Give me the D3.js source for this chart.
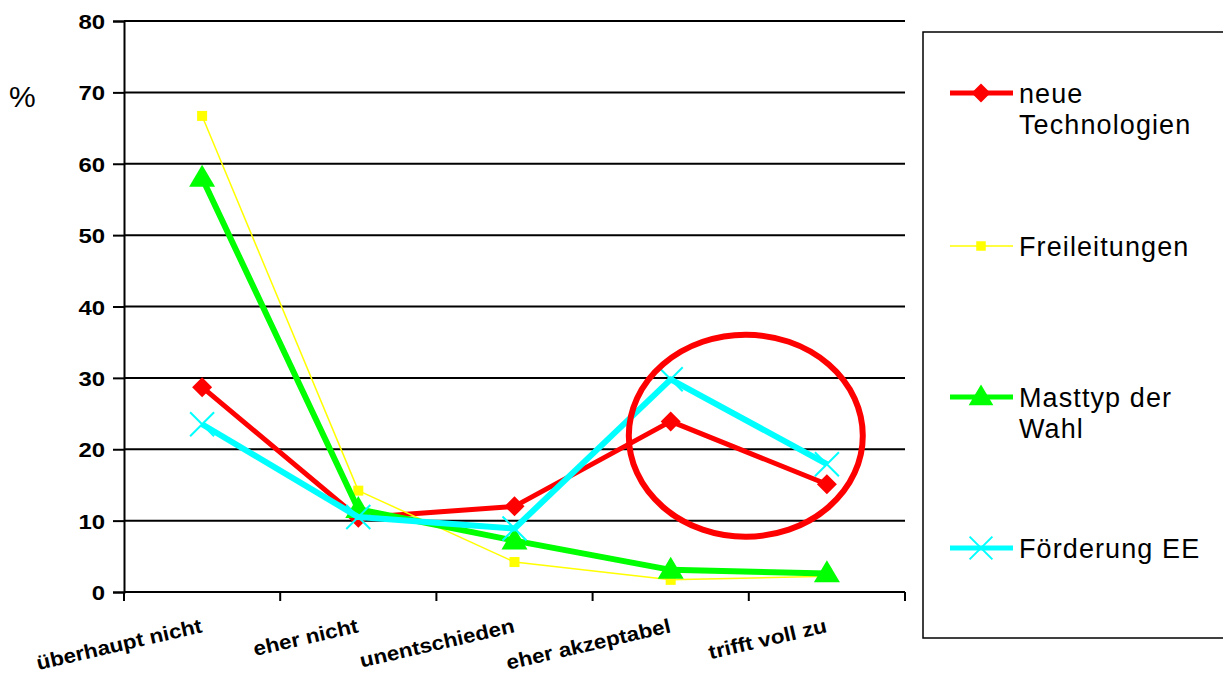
<!DOCTYPE html>
<html>
<head>
<meta charset="utf-8">
<script src="https://cdn.jsdelivr.net/npm/d3@7"></script>
<style>
  html, body { margin: 0; padding: 0; background: #fff; }
  svg { display: block; font-family: "Liberation Sans", Arial, sans-serif; }
</style>
</head>
<body>
<svg id="chart" width="1223" height="674"></svg>
<script>
// Answer categories on the x axis
const categories = ["überhaupt nicht", "eher nicht", "unentschieden", "eher akzeptabel", "trifft voll zu"];

// Share of answers (%) per series
const neueTechnologien = [28.7, 10.4, 12.0, 23.9, 15.1];
const freileitungen    = [66.7, 14.2, 4.2, 1.7, 2.2];
const masttypDerWahl   = [58.0, 11.6, 7.2, 3.1, 2.6];
const foerderungEE     = [23.5, 10.5, 8.9, 29.8, 17.9];

const seriesNames = [["neue", "Technologien"], ["Freileitungen"], ["Masttyp der", "Wahl"], ["Förderung EE"]];

const yTicks = [0, 10, 20, 30, 40, 50, 60, 70, 80];

const series = [
  { name: seriesNames[0], values: neueTechnologien, color: "#ff0000", width: 5,   marker: "diamond"  },
  { name: seriesNames[1], values: freileitungen,    color: "#ffff00", width: 1.5, marker: "square"   },
  { name: seriesNames[2], values: masttypDerWahl,   color: "#00ff00", width: 6,   marker: "triangle" },
  { name: seriesNames[3], values: foerderungEE,     color: "#00ffff", width: 6,   marker: "cross"    }
];

const svg = d3.select("#chart");
const plotLeft = 124, plotRight = 905, plotTop = 21, plotBottom = 592;

const x = d3.scaleBand().domain(categories).range([plotLeft, plotRight]).padding(0);
const y = d3.scaleLinear().domain([0, 80]).range([plotBottom, plotTop]);
const cx = d => x(d) + x.bandwidth() / 2;

// Horizontal gridlines
svg.append("g").selectAll("line")
  .data(yTicks.filter(t => t > 0))
  .join("line")
  .attr("x1", plotLeft).attr("x2", plotRight)
  .attr("y1", d => y(d)).attr("y2", d => y(d))
  .attr("stroke", "#000").attr("stroke-width", 2);

// Y axis
const yAxis = svg.append("g").attr("transform", `translate(${plotLeft},0)`)
  .call(d3.axisLeft(y).tickValues(yTicks).tickSize(11).tickPadding(8));
yAxis.select(".domain").attr("stroke", "#000").attr("stroke-width", 2);
yAxis.selectAll(".tick line").attr("stroke", "#000").attr("stroke-width", 2);
yAxis.selectAll(".tick text")
  .attr("font-size", 21).attr("font-weight", "bold").attr("fill", "#000")
  .attr("font-family", "'Liberation Sans', Arial, sans-serif")
  .attr("dy", "0.36em")
  .attr("transform", function() {
    const tx = +d3.select(this).attr("x");
    return `translate(${tx},0) scale(1.14,1) translate(${-tx},0)`;
  });

// X axis with ticks on the category boundaries
const boundaries = d3.range(categories.length + 1).map(i => plotLeft + i * x.step());
svg.append("line")
  .attr("x1", plotLeft).attr("x2", plotRight).attr("y1", plotBottom).attr("y2", plotBottom)
  .attr("stroke", "#000").attr("stroke-width", 2);
svg.append("g").selectAll("line")
  .data(boundaries)
  .join("line")
  .attr("x1", d => d).attr("x2", d => d)
  .attr("y1", plotBottom).attr("y2", plotBottom + 9)
  .attr("stroke", "#000").attr("stroke-width", 2);

// Category labels, slanted
svg.append("g").selectAll("text")
  .data(categories)
  .join("text")
  .attr("transform", d => `translate(${cx(d) + 1},${plotBottom + 40}) rotate(-13) scale(1.12,1)`)
  .attr("text-anchor", "end")
  .attr("font-size", 20).attr("font-weight", "bold").attr("fill", "#000")
  .text(d => d);

// Unit label
svg.append("text")
  .attr("x", 9).attr("y", 107)
  .attr("font-size", 30).attr("fill", "#000")
  .text("%");

// Marker shapes
function drawMarker(g, type, color, px, py, scale = 1) {
  if (type === "diamond") {
    const r = 10 * scale;
    g.append("path")
      .attr("d", `M${px},${py - r}L${px + r},${py}L${px},${py + r}L${px - r},${py}Z`)
      .attr("fill", color);
  } else if (type === "square") {
    const s = 10 * scale;
    g.append("rect").attr("x", px - s / 2).attr("y", py - s / 2)
      .attr("width", s).attr("height", s).attr("fill", color);
  } else if (type === "triangle") {
    const w = 13 * scale, h = 22 * scale;
    g.append("path")
      .attr("d", `M${px},${py - h * 0.6}L${px + w},${py + h * 0.4}L${px - w},${py + h * 0.4}Z`)
      .attr("fill", color);
  } else if (type === "cross") {
    const r = 12 * scale;
    g.append("path")
      .attr("d", `M${px - r},${py - r}L${px + r},${py + r}M${px - r},${py + r}L${px + r},${py - r}`)
      .attr("stroke", color).attr("stroke-width", 2).attr("fill", "none");
  }
}

const line = d3.line().x((d, i) => cx(categories[i])).y(d => y(d));

// Series lines and markers
series.forEach(s => {
  const g = svg.append("g");
  g.append("path")
    .attr("d", line(s.values))
    .attr("fill", "none")
    .attr("stroke", s.color)
    .attr("stroke-width", s.width)
    .attr("stroke-linejoin", "round");
  s.values.forEach((v, i) => drawMarker(g, s.marker, s.color, cx(categories[i]), y(v)));
});

// Highlight ring around the last two answers
svg.append("ellipse")
  .attr("cx", plotLeft + 4 * x.step() - 3)
  .attr("cy", y(21.9))
  .attr("rx", 117).attr("ry", 101)
  .attr("fill", "none")
  .attr("stroke", "#ff0000")
  .attr("stroke-width", 6);

// Legend
const legend = svg.append("g");
legend.append("rect")
  .attr("x", 923).attr("y", 32).attr("width", 320).attr("height", 606)
  .attr("fill", "none").attr("stroke", "#000").attr("stroke-width", 1.5);

const legendY = [93, 246, 397, 548];
series.forEach((s, i) => {
  const ly = legendY[i];
  legend.append("line")
    .attr("x1", 950).attr("x2", 1013).attr("y1", ly).attr("y2", ly)
    .attr("stroke", s.color).attr("stroke-width", s.width === 1.5 ? 1.5 : 5);
  drawMarker(legend, s.marker, s.color, 981, ly, 0.95);
  const t = legend.append("text")
    .attr("x", 1019)
    .attr("y", ly + 10)
    .attr("font-size", 27).attr("fill", "#000")
    .attr("letter-spacing", 1.1);
  s.name.forEach((part, k) => {
    t.append("tspan").attr("x", 1019).attr("dy", k === 0 ? 0 : 31).text(part);
  });
});
</script>
</body>
</html>
